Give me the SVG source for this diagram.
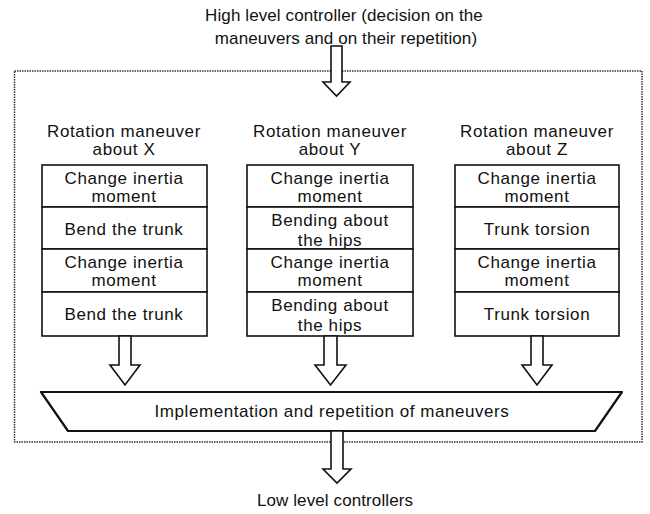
<svg xmlns="http://www.w3.org/2000/svg" width="650" height="514" viewBox="0 0 650 514">
<defs>
<style>
.t{font-family:"Liberation Sans",Arial,sans-serif;font-size:17px;fill:#111;text-anchor:middle;letter-spacing:0.6px}
.h{font-family:"Liberation Sans",Arial,sans-serif;font-size:17px;fill:#111;text-anchor:middle;letter-spacing:0.1px}
.box{fill:#fff;stroke:#111;stroke-width:1.6}
.arr{fill:#fff;stroke:#111;stroke-width:1.6;stroke-linejoin:miter}
.frame{fill:none;stroke:#333;stroke-width:1.5;stroke-dasharray:1.5 1}
</style>
</defs>
<rect width="650" height="514" fill="#fff"/>
<g id="frame"><rect class="frame" x="14.5" y="71" width="627.5" height="371"/></g>
<g id="high-level">
<text class="h" x="344" y="21">High level controller (decision on the</text>
<text class="h" x="346" y="44">maneuvers and on their repetition)</text>
</g>
<g id="col-x">
<text class="t" x="124" y="137">Rotation maneuver</text>
<text class="t" x="124" y="155">about X</text>
<rect class="box" x="42" y="165" width="165" height="42"/>
<text class="t" x="124" y="184">Change inertia</text>
<text class="t" x="124" y="202">moment</text>
<rect class="box" x="42" y="207" width="165" height="42"/>
<text class="t" x="124" y="235">Bend the trunk</text>
<rect class="box" x="42" y="249" width="165" height="43"/>
<text class="t" x="124" y="268">Change inertia</text>
<text class="t" x="124" y="286">moment</text>
<rect class="box" x="42" y="292" width="165" height="44"/>
<text class="t" x="124" y="320">Bend the trunk</text>
</g>
<g id="col-y">
<text class="t" x="330" y="137">Rotation maneuver</text>
<text class="t" x="330" y="155">about Y</text>
<rect class="box" x="247" y="165" width="166" height="42"/>
<text class="t" x="330" y="184">Change inertia</text>
<text class="t" x="330" y="202">moment</text>
<rect class="box" x="247" y="207" width="166" height="42"/>
<text class="t" x="330" y="226">Bending about</text>
<text class="t" x="330" y="246">the hips</text>
<rect class="box" x="247" y="249" width="166" height="43"/>
<text class="t" x="330" y="268">Change inertia</text>
<text class="t" x="330" y="286">moment</text>
<rect class="box" x="247" y="292" width="166" height="44"/>
<text class="t" x="330" y="311">Bending about</text>
<text class="t" x="330" y="331">the hips</text>
</g>
<g id="col-z">
<text class="t" x="537" y="137">Rotation maneuver</text>
<text class="t" x="537" y="155">about Z</text>
<rect class="box" x="455" y="165" width="164" height="42"/>
<text class="t" x="537" y="184">Change inertia</text>
<text class="t" x="537" y="202">moment</text>
<rect class="box" x="455" y="207" width="164" height="42"/>
<text class="t" x="537" y="235">Trunk torsion</text>
<rect class="box" x="455" y="249" width="164" height="43"/>
<text class="t" x="537" y="268">Change inertia</text>
<text class="t" x="537" y="286">moment</text>
<rect class="box" x="455" y="292" width="164" height="44"/>
<text class="t" x="537" y="320">Trunk torsion</text>
</g>
<g id="implementation">
<polygon points="41,392 622,392 595,431 68,431" fill="#fff" stroke="#111" stroke-width="2.2" stroke-linejoin="round"/>
<text class="t" x="332" y="417" style="letter-spacing:0.55px">Implementation and repetition of maneuvers</text>
</g>
<g id="low-level">
<text class="h" x="335" y="506">Low level controllers</text>
</g>
<g id="connectors">
<polygon class="arr" points="331,46 342,46 342,82 350,82 336.5,96 323,82 331,82"/>
<polygon class="arr" points="119,336 131,336 131,365 140,365 125,385 110,365 119,365"/>
<polygon class="arr" points="324,336 337,336 337,365 346,365 330.5,385 315,365 324,365"/>
<polygon class="arr" points="531,336 543,336 543,365 552,365 537,385 522,365 531,365"/>
<polygon class="arr" points="331,431 343,431 343,469 351,469 337,483 323,469 331,469"/>
</g>
</svg>
